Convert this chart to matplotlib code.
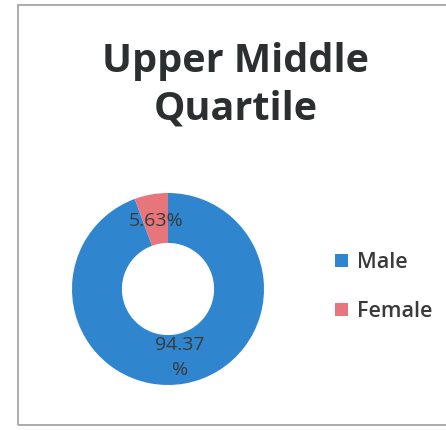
import matplotlib
matplotlib.use("Agg")
import matplotlib.pyplot as plt
from matplotlib.patches import Rectangle

categories = ["Male", "Female"]
values = [94.37, 5.63]
value_labels = ["94.37\n%", "5.63%"]
colors = ["#2F86CF", "#E6767C"]
title = "Upper Middle\nQuartile"

W, H = 446, 430
fig = plt.figure(figsize=(W / 100, H / 100), dpi=100)
fig.patch.set_facecolor("white")

# outer frame
fig.patches.append(Rectangle((18 / W, 5 / H), 1.2, (425 - 5) / H, transform=fig.transFigure,
                             fill=False, edgecolor="#a6a6a6", linewidth=1.3))

cx, cy, r = 168, 289, 96
ax = fig.add_axes([(cx - r) / W, (H - cy - r) / H, 2 * r / W, 2 * r / H])
wedges, _, autotexts = ax.pie(values, colors=colors, startangle=90, counterclock=False,
                              radius=1, wedgeprops=dict(width=0.52, linewidth=0),
                              autopct=lambda p: "", pctdistance=0.72)
for t, lab in zip(autotexts, value_labels):
    t.set_text(lab)
    t.set_fontsize(14)
    t.set_color("#3a3a3a")
    t.set_family("Open Sans")
    t.set_linespacing(1.5)
ax.set_xlim(-1, 1)
ax.set_ylim(-1, 1)

fig.text(236 / W, 1 - 85 / H, title, ha="center", va="center", fontsize=28.5,
         fontweight="bold", family="Open Sans", color="#2b2f30", linespacing=1.27)

leg = fig.legend(wedges, categories, loc="center left",
                 bbox_to_anchor=(316 / W, 1 - 287 / H), frameon=False,
                 handlelength=0.6, handleheight=0.6, handletextpad=0.4,
                 labelspacing=1.3, prop=dict(family="Open Sans", size=15.5, weight="semibold"))
for t in leg.get_texts():
    t.set_color("#3a3a3a")

fig.savefig("out.png", dpi=100, facecolor="white")
